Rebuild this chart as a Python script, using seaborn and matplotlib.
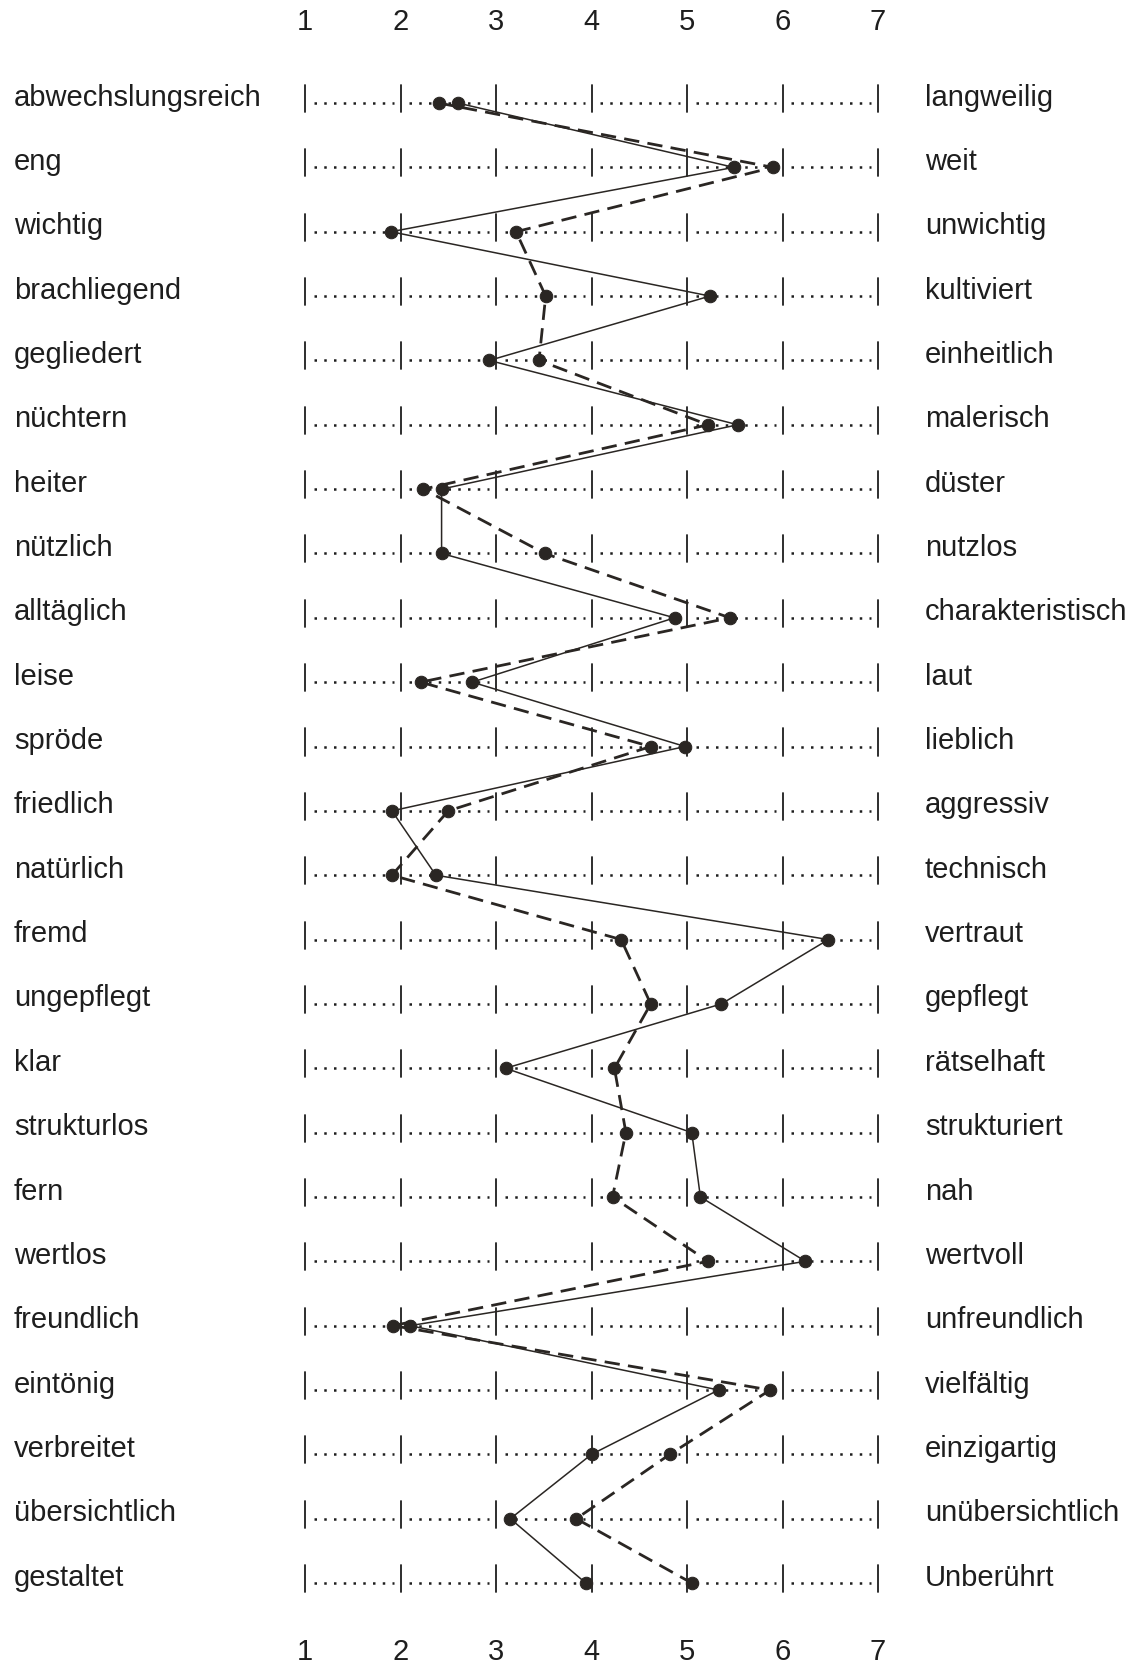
import seaborn as sns
import matplotlib.pyplot as plt
import pandas as pd

# Polaritätsprofil: linke / rechte Pole
left_labels = ['abwechslungsreich', 'eng', 'wichtig', 'brachliegend', 'gegliedert',
               'nüchtern', 'heiter', 'nützlich', 'alltäglich', 'leise', 'spröde',
               'friedlich', 'natürlich', 'fremd', 'ungepflegt', 'klar', 'strukturlos',
               'fern', 'wertlos', 'freundlich', 'eintönig', 'verbreitet',
               'übersichtlich', 'gestaltet']
right_labels = ['langweilig', 'weit', 'unwichtig', 'kultiviert', 'einheitlich',
                'malerisch', 'düster', 'nutzlos', 'charakteristisch', 'laut', 'lieblich',
                'aggressiv', 'technisch', 'vertraut', 'gepflegt', 'rätselhaft',
                'strukturiert', 'nah', 'wertvoll', 'unfreundlich', 'vielfältig',
                'einzigartig', 'unübersichtlich', 'Unberührt']

# Profil 1 (durchgezogen) und Profil 2 (gestrichelt)
solid_vals = [2.60, 5.49, 1.90, 5.24, 2.93, 5.53, 2.43, 2.43, 4.87, 2.75, 4.98, 1.91,
              2.37, 6.48, 5.36, 3.10, 5.05, 5.14, 6.24, 2.10, 5.33, 4.00, 3.15, 3.94]
dashed_vals = [2.40, 5.90, 3.21, 3.52, 3.45, 5.22, 2.24, 3.51, 5.45, 2.21, 4.62, 2.50,
               1.91, 4.31, 4.62, 4.24, 4.36, 4.22, 5.22, 1.92, 5.87, 4.82, 3.84, 5.05]

scale = [1, 2, 3, 4, 5, 6, 7]

sns.set_style('white')
plt.rcParams['font.family'] = ['Liberation Sans', 'DejaVu Sans']

n = len(left_labels)
rows = list(range(n))
df = pd.DataFrame({'row': rows, 'solid': solid_vals, 'dashed': dashed_vals})

fig = plt.figure(figsize=(11.35, 16.68), dpi=100)
ax = fig.add_axes([0, 0, 1, 1])

ink = '#1e1e1e'

# Skala: |.........|.........| pro Zeile
for r in rows:
    for v in scale:
        ax.plot([v, v], [r - 0.28, r + 0.14], color=ink, lw=1.3, zorder=1)
    for v in scale[:-1]:
        ax.plot([v + 0.09, v + 0.93], [r, r], color=ink, lw=1.8,
                linestyle=(0, (1, 2.9)), zorder=1)
    ax.text(-2.047, r + 0.04, left_labels[r], fontsize=21, color=ink,
            ha='left', va='baseline')
    ax.text(7.492, r + 0.04, right_labels[r], fontsize=21, color=ink,
            ha='left', va='baseline')

for v in scale:
    ax.text(v, -1.259, str(v), fontsize=21, color=ink, ha='center', va='center')
    ax.text(v, 24.07, str(v), fontsize=21, color=ink, ha='center', va='center')

sns.lineplot(data=df, x='solid', y='row', orient='y', estimator=None, ax=ax,
             color='#2a2623', lw=1.1, marker='o', markersize=9,
             markeredgecolor='#2a2623', zorder=3)
sns.lineplot(data=df, x='dashed', y='row', orient='y', estimator=None, ax=ax,
             color='#2a2623', lw=2.0, linestyle=(0, (5.5, 3)), marker='o',
             markersize=9, markeredgecolor='#2a2623', zorder=3)

ax.set_xlim(-2.194, 9.691)
ax.set_ylim(24.32, -1.601)
ax.axis('off')

plt.savefig('out.png', dpi=100)
